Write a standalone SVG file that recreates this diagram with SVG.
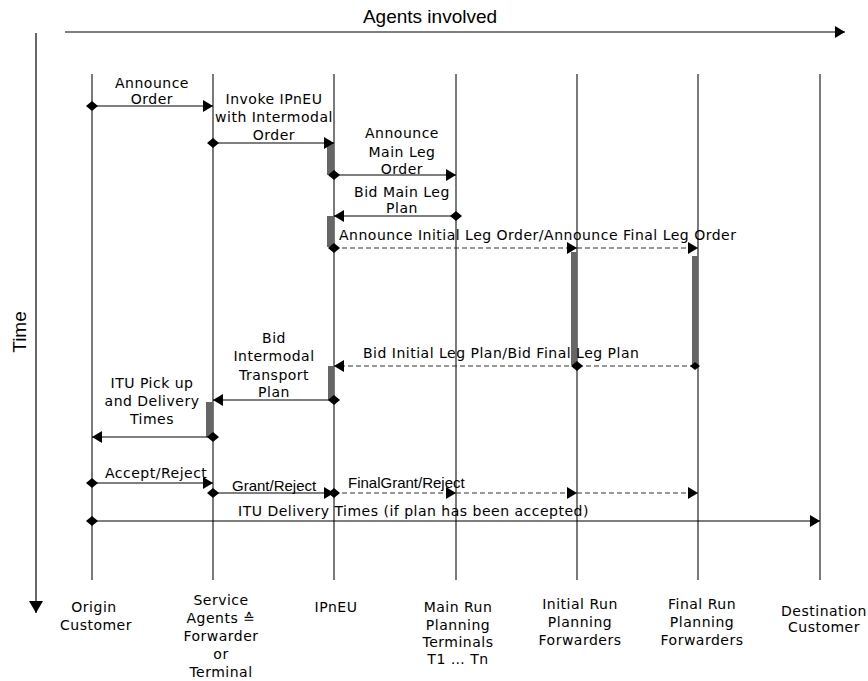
<svg xmlns="http://www.w3.org/2000/svg" width="868" height="681" viewBox="0 0 868 681">
<defs>
<marker id="arr" markerUnits="userSpaceOnUse" markerWidth="11" markerHeight="12" refX="10" refY="6" orient="auto"><path d="M0,0 L10,6 L0,12 Z" fill="#000"/></marker>
<marker id="arrb" markerUnits="userSpaceOnUse" markerWidth="13" markerHeight="14" refX="12" refY="7" orient="auto"><path d="M0,0 L12,7 L0,14 Z" fill="#000"/></marker>
<marker id="dia" markerUnits="userSpaceOnUse" markerWidth="12" markerHeight="10" refX="6" refY="5" orient="auto"><path d="M0,5 L6,0 L12,5 L6,10 Z" fill="#000"/></marker>
<marker id="dias" markerUnits="userSpaceOnUse" markerWidth="10" markerHeight="8" refX="5" refY="4" orient="auto"><path d="M0,4 L5,0 L10,4 L5,8 Z" fill="#000"/></marker>
</defs>
<style>
.life{stroke:#222;stroke-width:1.2;fill:none}
.msg{stroke:#000;stroke-width:1.2;fill:none}
.dash{stroke:#333;stroke-width:1.2;fill:none;stroke-dasharray:5,3}
.bar{fill:#666}
.t{font-family:"DejaVu Sans",sans-serif;font-size:14px;letter-spacing:0.5px;fill:#000;text-anchor:middle}
.tl{font-family:"DejaVu Sans",sans-serif;font-size:14px;letter-spacing:0.5px;fill:#000}
.a{font-family:"Liberation Sans",Arial,sans-serif;font-size:15px;fill:#000}
.big{font-family:"Liberation Sans",Arial,sans-serif;font-size:19px;fill:#000}
</style>
<rect width="868" height="681" fill="#fff"/>
<g id="axes">
<line x1="65" y1="32" x2="845" y2="32" class="msg" marker-end="url(#arr)"/>
<text x="430" y="23" class="big" text-anchor="middle">Agents involved</text>
<line x1="36" y1="33" x2="36" y2="613" class="msg" marker-end="url(#arrb)"/>
<text transform="translate(26,332) rotate(-90)" class="big" text-anchor="middle">Time</text>
</g>
<g id="origin">
<line x1="92" y1="74" x2="92" y2="580" class="life"/>
<text class="t"><tspan x="94" y="612">Origin</tspan><tspan x="96" y="630">Customer</tspan></text>
</g>
<g id="service">
<line x1="213" y1="74" x2="213" y2="580" class="life"/>
<text class="t"><tspan x="221" y="605">Service</tspan><tspan x="221" y="623">Agents ≙</tspan><tspan x="221" y="641">Forwarder</tspan><tspan x="221" y="659">or</tspan><tspan x="221" y="677">Terminal</tspan></text>
</g>
<g id="ipneu">
<line x1="334" y1="74" x2="334" y2="580" class="life"/>
<text class="t" x="336" y="612">IPnEU</text>
</g>
<g id="mainrun">
<line x1="456" y1="74" x2="456" y2="580" class="life"/>
<text class="t"><tspan x="458" y="612">Main Run</tspan><tspan x="458" y="630">Planning</tspan><tspan x="458" y="647">Terminals</tspan><tspan x="458" y="664">T1 … Tn</tspan></text>
</g>
<g id="initialrun">
<line x1="577" y1="74" x2="577" y2="580" class="life"/>
<text class="t"><tspan x="580" y="609">Initial Run</tspan><tspan x="580" y="627">Planning</tspan><tspan x="580" y="645">Forwarders</tspan></text>
</g>
<g id="finalrun">
<line x1="698" y1="74" x2="698" y2="580" class="life"/>
<text class="t"><tspan x="702" y="609">Final Run</tspan><tspan x="702" y="627">Planning</tspan><tspan x="702" y="645">Forwarders</tspan></text>
</g>
<g id="destination">
<line x1="820" y1="74" x2="820" y2="580" class="life"/>
<text class="t"><tspan x="824" y="616">Destination</tspan><tspan x="824" y="632">Customer</tspan></text>
</g>
<g id="activations">
<rect class="bar" x="327" y="143" width="7" height="32"/>
<rect class="bar" x="327" y="216" width="7" height="31"/>
<rect class="bar" x="571" y="252" width="6" height="113"/>
<rect class="bar" x="692" y="256" width="6" height="109"/>
<rect class="bar" x="328" y="366" width="6" height="34"/>
<rect class="bar" x="206" y="402" width="7" height="35"/>
</g>
<g id="connectors">
<line x1="92" y1="106" x2="213" y2="106" class="msg" marker-start="url(#dia)" marker-end="url(#arr)"/>
<line x1="213" y1="143" x2="334" y2="143" class="msg" marker-start="url(#dia)" marker-end="url(#arr)"/>
<line x1="334" y1="175" x2="456" y2="175" class="msg" marker-start="url(#dia)" marker-end="url(#arr)"/>
<line x1="456" y1="216" x2="334" y2="216" class="msg" marker-start="url(#dia)" marker-end="url(#arr)"/>
<line x1="334" y1="248" x2="577" y2="248" class="dash" marker-start="url(#dia)" marker-end="url(#arr)"/>
<line x1="577" y1="248" x2="698" y2="248" class="dash" marker-end="url(#arr)"/>
<line x1="695" y1="366" x2="577" y2="366" class="dash" marker-start="url(#dias)"/>
<line x1="577" y1="366" x2="334" y2="366" class="dash" marker-start="url(#dia)" marker-end="url(#arr)"/>
<line x1="334" y1="400" x2="213" y2="400" class="msg" marker-start="url(#dia)" marker-end="url(#arr)"/>
<line x1="213" y1="437" x2="92" y2="437" class="msg" marker-start="url(#dia)" marker-end="url(#arr)"/>
<line x1="92" y1="483" x2="213" y2="483" class="msg" marker-start="url(#dia)" marker-end="url(#arr)"/>
<line x1="213" y1="493" x2="334" y2="493" class="msg" marker-start="url(#dia)" marker-end="url(#arr)"/>
<line x1="334" y1="493" x2="456" y2="493" class="dash" marker-start="url(#dia)" marker-end="url(#arr)"/>
<line x1="456" y1="493" x2="577" y2="493" class="dash" marker-end="url(#arr)"/>
<line x1="577" y1="493" x2="698" y2="493" class="dash" marker-end="url(#arr)"/>
<line x1="92" y1="521" x2="820" y2="521" class="msg" marker-start="url(#dia)" marker-end="url(#arr)"/>
</g>
<g id="labels">
<text class="t"><tspan x="152" y="88">Announce</tspan><tspan x="152" y="104">Order</tspan></text>
<text class="t"><tspan x="274" y="104">Invoke IPnEU</tspan><tspan x="274" y="122">with Intermodal</tspan><tspan x="274" y="140">Order</tspan></text>
<text class="t"><tspan x="402" y="138">Announce</tspan><tspan x="402" y="157">Main Leg</tspan><tspan x="402" y="174">Order</tspan></text>
<text class="t"><tspan x="402" y="197">Bid Main Leg</tspan><tspan x="402" y="213">Plan</tspan></text>
<text class="tl" x="339" y="240">Announce Initial Leg Order/Announce Final Leg Order</text>
<text class="tl" x="363" y="358">Bid Initial Leg Plan/Bid Final Leg Plan</text>
<text class="t"><tspan x="274" y="343">Bid</tspan><tspan x="274" y="361">Intermodal</tspan><tspan x="274" y="380">Transport</tspan><tspan x="274" y="397">Plan</tspan></text>
<text class="t"><tspan x="152" y="388">ITU Pick  up</tspan><tspan x="152" y="406">and Delivery</tspan><tspan x="152" y="424">Times</tspan></text>
<text class="tl" x="105" y="478">Accept/Reject</text>
<text class="a" x="232" y="491">Grant/Reject</text>
<text class="a" x="348" y="488">FinalGrant/Reject</text>
<text class="tl" x="238" y="516">ITU Delivery Times (if plan has been accepted)</text>
</g>
</svg>
